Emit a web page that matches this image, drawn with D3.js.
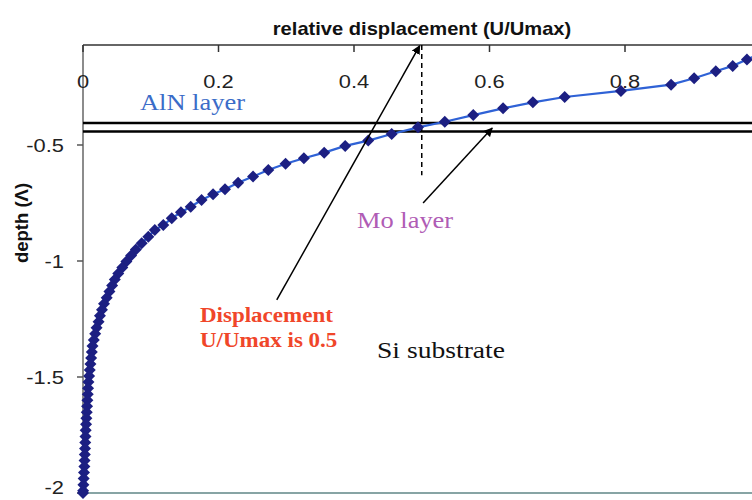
<!DOCTYPE html>
<html><head><meta charset="utf-8">
<script src="https://cdn.jsdelivr.net/npm/d3@7"></script>
<style>body{margin:0;background:#fff}svg{display:block}</style>
</head><body><svg id="c" width="752" height="500"></svg>
<script>
// relative displacement U/Umax
const displacement = [1.0,0.980,0.959,0.934,0.902,0.868,0.794,0.711,0.664,0.620,0.576,0.534,0.4945,0.4556,0.421,0.387,0.356,0.326,0.299,0.2735,0.251,0.229,0.2096,0.192,0.175,0.159,0.1446,0.131,0.1185,0.106,0.0964,0.0866,
  0.078,0.071,0.064,0.058,0.052,0.047,0.043,0.039,0.035,0.031,0.028,0.025,0.023,0.020,0.018,0.016,0.014,0.013,0.012,0.011,0.010,0.009,0.008,0.0075,0.007,0.0065,0.006,0.0055,0.005,0.0045,0.004,0.0037,0.0033,0.003,0.0027,0.0023,0.002,0.0015,0.001,0.0006,0.0002,0];
// depth in wavelengths
const depth = [-0.105,-0.132,-0.159,-0.182,-0.2125,-0.240,-0.267,-0.293,-0.316,-0.342,-0.371,-0.400,-0.424,-0.4526,-0.481,-0.504,-0.533,-0.557,-0.581,-0.608,-0.636,-0.6625,-0.691,-0.7125,-0.737,-0.766,-0.790,-0.816,-0.845,-0.866,-0.895,-0.924,
  -0.950,-0.976,-1.002,-1.028,-1.054,-1.080,-1.106,-1.132,-1.158,-1.184,-1.210,-1.236,-1.262,-1.288,-1.314,-1.340,-1.366,-1.392,-1.418,-1.444,-1.470,-1.496,-1.522,-1.548,-1.574,-1.600,-1.626,-1.652,-1.678,-1.704,-1.730,-1.756,-1.782,-1.808,-1.834,-1.860,-1.886,-1.912,-1.938,-1.964,-1.990,-2.0];
const xTicks = [0,0.2,0.4,0.6,0.8,1];
const xTickLabels = ["0","0.2","0.4","0.6","0.8"];
const yTicks = [-0.5,-1,-1.5,-2];
const yTickLabels = ["-0.5","-1","-1.5","-2"];
const layerBoundaries = [-0.405,-0.442];
const halfValue = 0.5;
const halfLineEnd = -0.63;
// arrows: [x0,d0,x1,d1]
const arrowDisplacement = [0.286,-1.168,0.497,-0.072];
const arrowMo = [0.502,-0.750,0.604,-0.427];

const svg = d3.select("#c");
const W=752,H=500, L=83, T=45, B=493;
const x = d3.scaleLinear([0,1],[L,760.5]);
const y = d3.scaleLinear([-2,-0.069],[B,T]);
const SX=1.15;

svg.append("rect").attr("width",W).attr("height",H).attr("fill","#fff");
const defs = svg.append("defs");
defs.append("marker").attr("id","ah").attr("viewBox","0 0 10 10").attr("refX",9).attr("refY",5)
  .attr("markerWidth",9).attr("markerHeight",9).attr("markerUnits","userSpaceOnUse").attr("orient","auto")
  .append("path").attr("d","M0,0L10,5L0,10Z").attr("fill","#000");

// plot frame lines
svg.append("line").attr("x1",L).attr("x2",W).attr("y1",B).attr("y2",B).attr("stroke","#5f8686").attr("stroke-width",1.5);
svg.append("line").attr("x1",L).attr("x2",L).attr("y1",T).attr("y2",B).attr("stroke","#666").attr("stroke-width",1.5);
svg.append("line").attr("x1",L).attr("x2",W).attr("y1",T).attr("y2",T).attr("stroke","#333").attr("stroke-width",1.5);

// x ticks (top, pointing down)
svg.selectAll(".xt").data(xTicks).join("line").attr("x1",d=>x(d)).attr("x2",d=>x(d))
  .attr("y1",T).attr("y2",T+7).attr("stroke","#333").attr("stroke-width",1.5);
svg.selectAll(".xl").data(xTickLabels).join("text")
  .attr("transform",(d,i)=>`translate(${x(xTicks[i])},88) scale(${SX},1)`)
  .attr("text-anchor","middle").attr("font-family","Liberation Sans, Arial, sans-serif")
  .attr("font-size",19).attr("fill","#222").text(d=>d);

// y ticks
svg.selectAll(".yt").data(yTicks).join("line").attr("x1",L-6).attr("x2",L)
  .attr("y1",d=>y(d)).attr("y2",d=>y(d)).attr("stroke","#555").attr("stroke-width",1.5);
svg.selectAll(".yl").data(yTicks).join("text")
  .attr("transform",d=>`translate(64,${Math.min(y(d)+7,494)}) scale(${SX},1)`)
  .attr("text-anchor","end").attr("font-family","Liberation Sans, Arial, sans-serif")
  .attr("font-size",19).attr("fill","#222").text((d,i)=>yTickLabels[i]);

// titles
svg.append("text").attr("transform",`translate(422,35) scale(${SX},1)`).attr("text-anchor","middle")
  .attr("font-family","Liberation Sans, Arial, sans-serif").attr("font-weight","bold").attr("font-size",17.5)
  .attr("fill","#111").text("relative displacement (U/Umax)");
svg.append("text").attr("transform","translate(28,223) rotate(-90)").attr("text-anchor","middle")
  .attr("font-family","Liberation Sans, Arial, sans-serif").attr("font-weight","bold").attr("font-size",18.5)
  .attr("fill","#111").text("depth (Λ)");

// layer boundaries
svg.selectAll(".lb").data(layerBoundaries).join("line").attr("x1",L).attr("x2",W)
  .attr("y1",d=>y(d)).attr("y2",d=>y(d)).attr("stroke","#000").attr("stroke-width",2.5);

// dashed line at 0.5
svg.append("line").attr("x1",x(halfValue)).attr("x2",x(halfValue)).attr("y1",T).attr("y2",y(halfLineEnd))
  .attr("stroke","#000").attr("stroke-width",1.5).attr("stroke-dasharray","5,4");

// curve
const pts = depth.map((d,i)=>[displacement[i],d]);
svg.append("path").datum(pts).attr("fill","none").attr("stroke","#2f62d6").attr("stroke-width",2.2)
  .attr("d",d3.line().x(d=>x(d[0])).y(d=>y(d[1])));
svg.selectAll(".mk").data(pts).join("path")
  .attr("transform",d=>`translate(${x(d[0])},${y(d[1])})`)
  .attr("d","M0,-6L6,0L0,6L-6,0Z").attr("fill","#1c1f82");

// arrows
[arrowDisplacement,arrowMo].forEach(a=>{
  svg.append("line").attr("x1",x(a[0])).attr("y1",y(a[1])).attr("x2",x(a[2])).attr("y2",y(a[3]))
    .attr("stroke","#000").attr("stroke-width",1.5).attr("marker-end","url(#ah)");
});

// annotations
function ann(t,px,py,size,color,weight){
  svg.append("text").attr("transform",`translate(${px},${py}) scale(${SX},1)`)
    .attr("font-family","Liberation Serif, Times New Roman, serif").attr("font-size",size)
    .attr("font-weight",weight||"normal").attr("fill",color).text(t);
}
ann("AlN layer",140,110,23,"#3b6cc8");
ann("Mo layer",357,228,23,"#b05cb5");
ann("Displacement",200,322,20,"#f0462a","bold");
ann("U/Umax is 0.5",200,347,20,"#f0462a","bold");
ann("Si substrate",377,358,24,"#111");
</script></body></html>
